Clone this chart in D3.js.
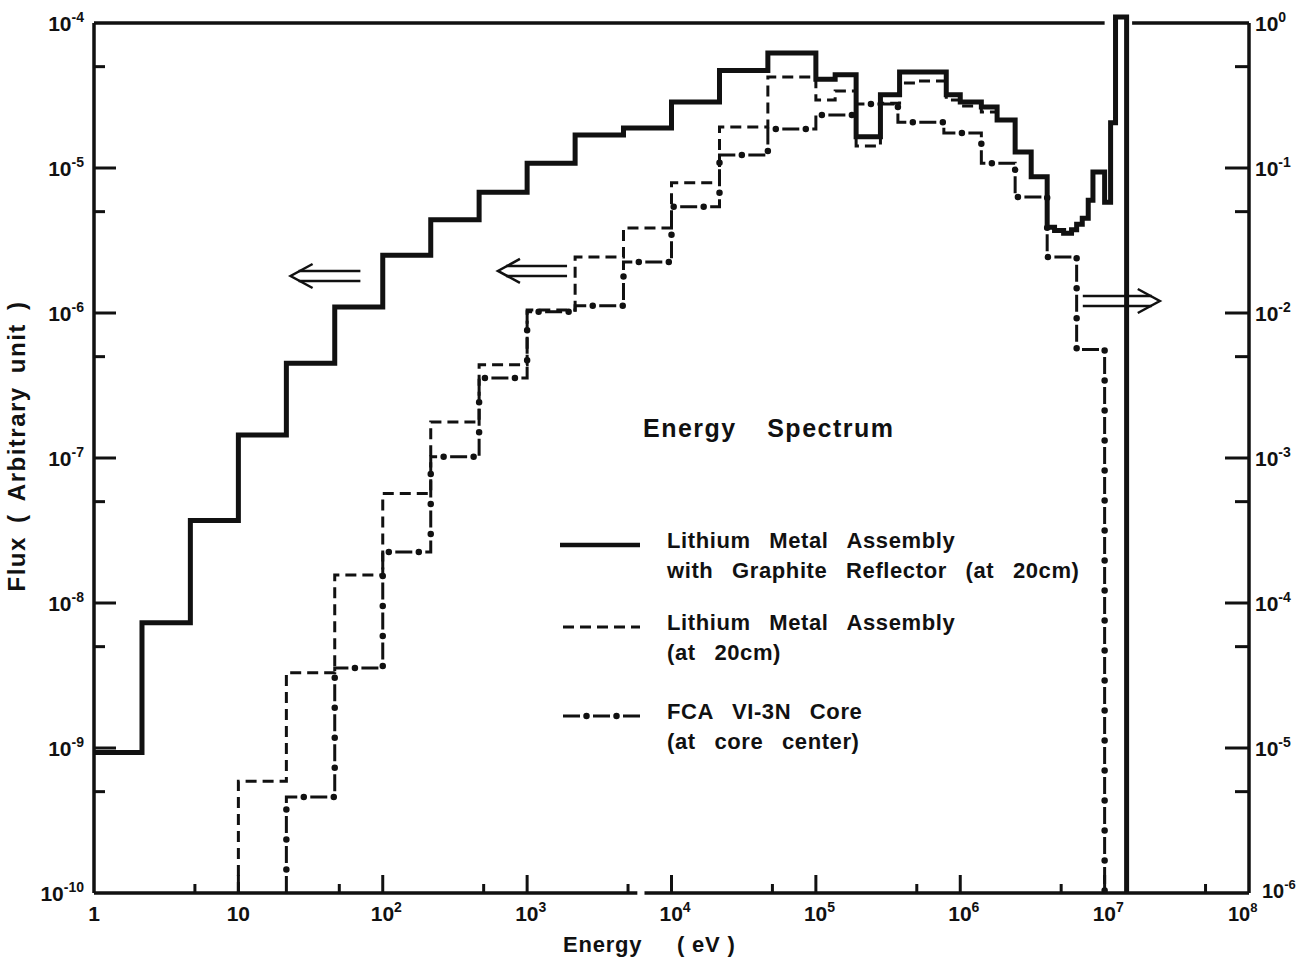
<!DOCTYPE html>
<html><head><meta charset="utf-8">
<script src="https://cdn.jsdelivr.net/npm/d3@7"></script>
<style>
body{margin:0;background:#fff;}
svg text{font-family:"Liberation Sans", Arial, sans-serif; font-weight:bold; fill:#111;}
</style></head><body>
<svg id="c" width="1300" height="961"></svg>
<script>
// ---------- data (energy in eV, flux in left-axis arbitrary units) ----------
const solidEdges = [1, 2.15, 4.65, 10, 21.5, 46.5, 100, 215, 465, 1000, 2150, 4650, 1e4, 2.15e4, 4.65e4, 1e5,
  1.36e5, 1.9e5, 2.8e5, 3.8e5, 8e5, 1e6, 1.4e6, 1.8e6, 2.4e6, 3.1e6, 4e6, 4.5e6, 5.2e6, 5.9e6,
  6.4e6, 7.0e6, 7.7e6, 8.3e6, 1.0e7, 1.1e7, 1.19e7, 1.42e7];
const solidFlux = [9.3e-10, 7.3e-9, 3.7e-8, 1.44e-7, 4.5e-7, 1.1e-6, 2.5e-6, 4.4e-6, 6.8e-6, 1.08e-5,
  1.69e-5, 1.89e-5, 2.85e-5, 4.7e-5, 6.2e-5, 4.1e-5, 4.4e-5, 1.64e-5, 3.2e-5, 4.6e-5,
  3.2e-5, 2.85e-5, 2.63e-5, 2.14e-5, 1.29e-5, 8.7e-6, 3.9e-6, 3.7e-6, 3.55e-6, 3.75e-6,
  4.1e-6, 4.5e-6, 6.0e-6, 9.4e-6, 5.8e-6, 2.05e-5, 1.1e-4];

const dashedEdges = [10, 21.5, 46.5, 100, 215, 465, 1000, 2150, 4650, 1e4, 2.15e4, 4.65e4, 1e5, 1.36e5,
  1.9e5, 2.8e5, 3.8e5, 5e5, 8e5, 1e6, 1.4e6, 1.8e6, 2.4e6, 3.1e6, 4e6, 4.5e6, 5.2e6, 5.9e6, 6.4e6,
  7.0e6, 7.7e6, 8.3e6, 1e7, 1.1e7, 1.19e7, 1.42e7];
const dashedFlux = [5.9e-10, 3.3e-9, 1.56e-8, 5.7e-8, 1.77e-7, 4.4e-7, 1.05e-6, 2.43e-6, 3.85e-6, 7.9e-6,
  1.92e-5, 4.25e-5, 2.94e-5, 3.4e-5, 1.42e-5, 2.8e-5, 3.86e-5, 3.98e-5, 2.94e-5, 2.68e-5,
  2.43e-5, 2.14e-5, 1.29e-5, 8.7e-6, 3.9e-6, 3.7e-6, 3.55e-6, 3.75e-6, 4.1e-6, 4.5e-6,
  6.0e-6, 9.4e-6, 5.8e-6, 2.05e-5, 1.1e-4];

const fcaEdges = [21.5, 46.5, 100, 215, 465, 1000, 2150, 4650, 1e4, 2.15e4, 4.65e4, 1e5, 1.9e5, 3.7e5,
  7.7e5, 1.4e6, 2.4e6, 4e6, 6.4e6, 1.0e7];
const fcaFlux = [4.6e-10, 3.56e-9, 2.25e-8, 1.02e-7, 3.56e-7, 1.02e-6, 1.12e-6, 2.25e-6, 5.4e-6, 1.23e-5,
  1.86e-5, 2.32e-5, 2.76e-5, 2.07e-5, 1.74e-5, 1.08e-5, 6.3e-6, 2.43e-6, 5.6e-7];

const xMajorTicks = [1, 10, 1e2, 1e3, 1e4, 1e5, 1e6, 1e7, 1e8];
const xMinorTicks = [5, 50, 500, 5e3, 5e4, 5e5, 5e6, 5e7];
const yLeftMajor = [1e-4, 1e-5, 1e-6, 1e-7, 1e-8, 1e-9, 1e-10];
const yLeftMinor = [5e-5, 5e-6, 5e-7, 5e-8, 5e-9, 5e-10];
const yRightMajor = [1, 1e-1, 1e-2, 1e-3, 1e-4, 1e-5, 1e-6];
const yRightMinor = [5e-1, 5e-2, 5e-3, 5e-4, 5e-5, 5e-6];
const legendItems = [
  {style: "solid", lines: ["Lithium Metal Assembly", "with Graphite Reflector (at 20cm)"]},
  {style: "dashed", lines: ["Lithium Metal Assembly", "(at 20cm)"]},
  {style: "dashdot", lines: ["FCA VI-3N Core", "(at core center)"]}
];
// arrows: [tail energy, tip energy, flux]
const arrows = [[70, 23, 1.8e-6], [1890, 628, 1.95e-6], [7.06e6, 2.41e7, 1.21e-6]];

// ---------- scales ----------
const L = 94, R = 1249, T = 23, B = 893;
const x = d3.scaleLog().domain([1, 1e8]).range([L, R]);
const y = d3.scaleLog().domain([1e-10, 1e-4]).range([B, T]);
const yR = d3.scaleLog().domain([1e-6, 1]).range([B, T]);
const FLOOR = 1e-10;

const svg = d3.select("#c");
svg.append("rect").attr("width", 1300).attr("height", 961).attr("fill", "#fff");

// ---------- series ----------
function stepPoints(edges, vals, startFloor) {
  const pts = [];
  if (startFloor) pts.push([edges[0], FLOOR]);
  vals.forEach((v, i) => pts.push([edges[i], v]));
  pts.push([edges[edges.length - 1], vals[vals.length - 1]]);
  pts.push([edges[edges.length - 1], FLOOR]);
  return pts;
}
const line = d3.line().x(d => x(d[0])).y(d => y(d[1])).curve(d3.curveStepAfter);
const ink = "#111";

const fcaPts = stepPoints(fcaEdges, fcaFlux, true);
svg.append("path").attr("d", line(fcaPts)).attr("fill", "none").attr("stroke", ink)
  .attr("stroke-width", 3).attr("stroke-dasharray", "17 13");
svg.append("path").attr("d", line(fcaPts)).attr("fill", "none").attr("stroke", ink)
  .attr("stroke-width", 6.5).attr("stroke-linecap", "round")
  .attr("stroke-dasharray", "0 30").attr("stroke-dashoffset", 6.5);

svg.append("path").attr("d", line(stepPoints(dashedEdges, dashedFlux, true))).attr("fill", "none")
  .attr("stroke", ink).attr("stroke-width", 3).attr("stroke-dasharray", "11 6");

svg.append("path").attr("d", line(stepPoints(solidEdges, solidFlux, false))).attr("fill", "none")
  .attr("stroke", ink).attr("stroke-width", 5).attr("stroke-linejoin", "miter");

// ---------- frame ----------
const frame = svg.append("g").attr("stroke", ink).attr("stroke-width", 3.5).attr("fill", "none");
frame.append("line").attr("x1", x(1)).attr("x2", x(1)).attr("y1", y(1e-4)).attr("y2", y(1e-10));
frame.append("line").attr("x1", x(1e8)).attr("x2", x(1e8)).attr("y1", yR(1)).attr("y2", yR(1e-6));
frame.append("line").attr("x1", x(1)).attr("x2", x(1.0e7)).attr("y1", T).attr("y2", T);
frame.append("line").attr("x1", x(1.55e7)).attr("x2", x(1e8)).attr("y1", T).attr("y2", T);
frame.append("line").attr("x1", x(1)).attr("x2", x(5.8e3)).attr("y1", B).attr("y2", B);
frame.append("line").attr("x1", x(6.5e3)).attr("x2", x(1e8)).attr("y1", B).attr("y2", B);

const ticks = svg.append("g").attr("stroke", ink).attr("stroke-width", 3);
xMajorTicks.slice(1, -1).forEach(v => ticks.append("line").attr("x1", x(v)).attr("x2", x(v)).attr("y1", B).attr("y2", B - 18));
xMinorTicks.forEach(v => ticks.append("line").attr("x1", x(v)).attr("x2", x(v)).attr("y1", B).attr("y2", B - 9));
yLeftMajor.slice(1, -1).forEach(v => ticks.append("line").attr("x1", L).attr("x2", L + 22).attr("y1", y(v)).attr("y2", y(v)));
yLeftMinor.forEach(v => ticks.append("line").attr("x1", L).attr("x2", L + 11).attr("y1", y(v)).attr("y2", y(v)));
yRightMajor.slice(1, -1).forEach(v => ticks.append("line").attr("x1", R).attr("x2", R - 24).attr("y1", yR(v)).attr("y2", yR(v)));
yRightMinor.forEach(v => ticks.append("line").attr("x1", R).attr("x2", R - 14).attr("y1", yR(v)).attr("y2", yR(v)));

// ---------- tick labels ----------
const exp = v => Math.round(Math.log10(v));
function powLabel(g, px, py, e, anchor, size) {
  const fs = size || 21;
  const t = g.append("text").attr("x", px).attr("y", py).attr("text-anchor", anchor).style("font-size", fs + "px");
  t.append("tspan").text("10");
  t.append("tspan").attr("dy", -9).style("font-size", Math.round(fs * 0.66) + "px").text(e < 0 ? "-" + (-e) : String(e));
  return t;
}
const lab = svg.append("g");
yLeftMajor.forEach(v => powLabel(lab, 84, y(v) + 8, exp(v), "end"));
yRightMajor.forEach(v => {
  const e = exp(v);
  if (e === -6) powLabel(lab, 1262, yR(v) + 5, e, "start", 20);
  else powLabel(lab, 1255, yR(v) + 8, e, "start");
});
xMajorTicks.forEach(v => {
  const e = exp(v);
  if (e === 0) lab.append("text").attr("x", x(v)).attr("y", 921).attr("text-anchor", "middle").style("font-size", "21px").text("1");
  else if (e === 1) lab.append("text").attr("x", x(v)).attr("y", 921).attr("text-anchor", "middle").style("font-size", "21px").text("10");
  else if (e === 8) powLabel(lab, x(v) - 21, 921, e, "start", 20);
  else powLabel(lab, x(v) - 12, 921, e, "start");
});

// ---------- axis titles ----------
svg.append("text").attr("transform", "translate(25,446) rotate(-90)").attr("text-anchor", "middle")
  .style("font-size", "24px").style("letter-spacing", "1.5px").style("word-spacing", "5px")
  .text("Flux ( Arbitrary unit )");
svg.append("text").attr("x", 563).attr("y", 952).style("font-size", "22px").style("white-space", "pre")
  .style("letter-spacing", "0.8px").text("Energy     ( eV )");

// ---------- title + legend ----------
svg.append("text").attr("x", 643).attr("y", 437).style("font-size", "25px")
  .style("letter-spacing", "1.5px").style("word-spacing", "22px").text("Energy Spectrum");
const legY = [545, 627, 716];
legendItems.forEach((it, i) => {
  const ly = legY[i];
  if (it.style === "solid") {
    svg.append("line").attr("x1", 560).attr("x2", 640).attr("y1", ly).attr("y2", ly).attr("stroke", ink).attr("stroke-width", 4.5);
  } else if (it.style === "dashed") {
    svg.append("line").attr("x1", 563).attr("x2", 640).attr("y1", ly).attr("y2", ly).attr("stroke", ink).attr("stroke-width", 3).attr("stroke-dasharray", "11 6");
  } else {
    svg.append("line").attr("x1", 563).attr("x2", 640).attr("y1", ly).attr("y2", ly).attr("stroke", ink).attr("stroke-width", 3).attr("stroke-dasharray", "17 13");
    svg.append("line").attr("x1", 563).attr("x2", 640).attr("y1", ly).attr("y2", ly).attr("stroke", ink).attr("stroke-width", 6.5).attr("stroke-linecap", "round").attr("stroke-dasharray", "0 30").attr("stroke-dashoffset", 6.5);
  }
  it.lines.forEach((s, j) => {
    svg.append("text").attr("x", 667).attr("y", ly + 3 + (j === 0 ? 0 : 30))
      .style("font-size", "22px").style("letter-spacing", "0.6px").style("word-spacing", "12px").text(s);
  });
});

// ---------- arrows ----------
const ag = svg.append("g").attr("stroke", ink).attr("stroke-width", 2.5).attr("fill", "none");
arrows.forEach(([tail, tip, f]) => {
  const xt = x(tip), xa = x(tail), yy = y(f), dir = xt < xa ? 1 : -1;
  ag.append("path").attr("d", `M${xt + dir * 22},${yy - 12}L${xt},${yy}L${xt + dir * 22},${yy + 12}`);
  ag.append("path").attr("d", `M${xt + dir * 8},${yy - 5}H${xa}M${xt + dir * 8},${yy + 5}H${xa}`);
});
</script>
</body></html>
